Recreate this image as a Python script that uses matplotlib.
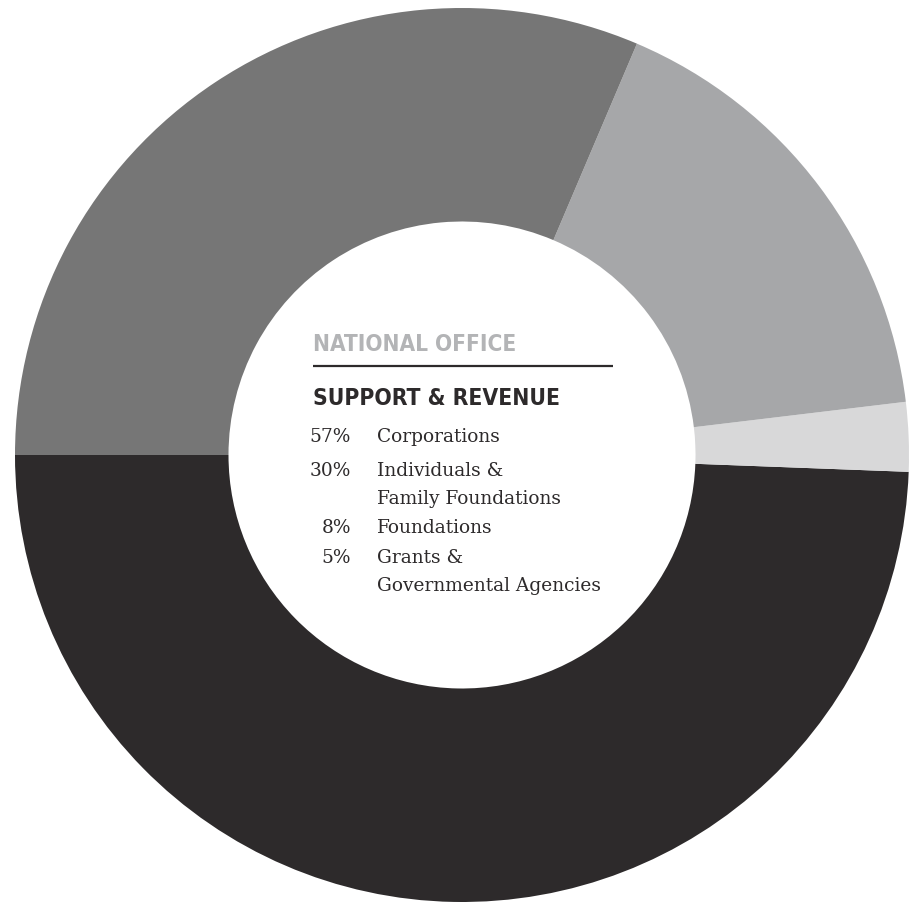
import matplotlib
matplotlib.use("Agg")
import matplotlib.pyplot as plt
from matplotlib import font_manager as fm

# ---- data ----
slice_names = ["Corporations", "Grants & Governmental Agencies", "Foundations",
               "Individuals & Family Foundations"]
slice_shares = [49.4, 2.5, 16.7, 31.4]          # visual share of the ring (%)
slice_colors = ["#2d2a2b", "#d8d8d9", "#a6a7a9", "#767676"]

title_top = "NATIONAL OFFICE"
title_main = "SUPPORT & REVENUE"
legend_pcts = ["57%", "30%", "8%", "5%"]
legend_labels = ["Corporations", "Individuals &\nFamily Foundations", "Foundations",
                 "Grants &\nGovernmental Agencies"]

W, H = 912, 903
fig = plt.figure(figsize=(W / 100, H / 100), dpi=100)
ax = fig.add_axes([0, 0, 1, 1])
ax.set_xlim(0, W)
ax.set_ylim(0, H)
ax.set_aspect("equal")
ax.axis("off")

cx, cy = 462, H - 456
R, r_in = 447, 233.5
ax.pie(slice_shares, colors=slice_colors, startangle=180, counterclock=True,
       center=(cx, cy), radius=R, frame=True,
       wedgeprops=dict(width=R - r_in, linewidth=0, antialiased=True))
ax.set_xlim(0, W)
ax.set_ylim(0, H)
ax.axis("off")

# pick a condensed bold face if possible
head_family = "DejaVu Sans"
head_stretch = "normal"
for fam, st in [("Liberation Sans Narrow", "normal"), ("DejaVu Sans", "condensed")]:
    try:
        p = fm.findfont(fm.FontProperties(family=fam, stretch=st, weight="bold"),
                        fallback_to_default=False)
        if ("Narrow" in p) or ("Condensed" in p):
            head_family, head_stretch = fam, st
            break
    except Exception:
        pass

renderer = fig.canvas.get_renderer()


def fit_text(x, y_top, s, target_w, base_size, **kw):
    t = ax.text(x, H - y_top, s, fontsize=base_size, ha="left", va="baseline", **kw)
    bb = t.get_window_extent(renderer=renderer)
    t.set_fontsize(base_size * target_w / bb.width)
    return t


fit_text(313, 350.7, title_top, 203, 20, color="#b3b4b6", family=head_family,
         fontstretch=head_stretch, fontweight="bold")
ax.plot([313, 613], [H - 366.7, H - 366.7], color="#2d2a2b", lw=1.6,
        solid_capstyle="butt")
fit_text(313, 405, title_main, 246, 20, color="#2d2a2b", family=head_family,
         fontstretch=head_stretch, fontweight="bold")

body_kw = dict(family="DejaVu Serif", color="#2d2a2b", fontsize=13.4)
pct_base = [441.7, 475.7, 533, 563]
for pct, lab, yb in zip(legend_pcts, legend_labels, pct_base):
    ax.text(351, H - yb, pct, ha="right", va="baseline", **body_kw)
    lines = lab.split("\n")
    for i, ln in enumerate(lines):
        ax.text(377, H - (yb + i * 28), ln, ha="left", va="baseline", **body_kw)

fig.savefig("out.png", dpi=100, facecolor="white")
